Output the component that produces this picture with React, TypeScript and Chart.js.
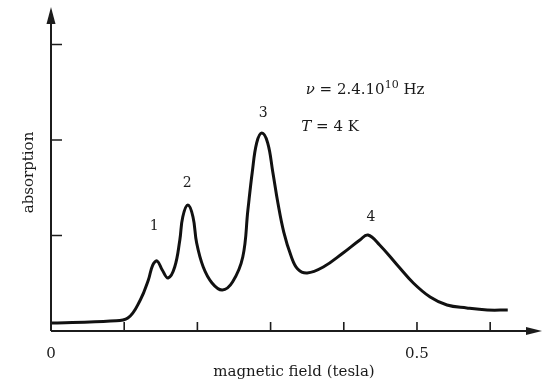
import React, { useEffect, useRef } from "react";
import { Chart, registerables } from "chart.js";

Chart.register(...registerables);

// magnetic field (tesla) and absorption (arb. units)
const fieldT = [
  0.0, 0.053, 0.081, 0.105, 0.122, 0.133, 0.139, 0.145, 0.152, 0.16, 0.169, 0.176, 0.18, 0.187,
  0.194, 0.199, 0.208, 0.22, 0.234, 0.248, 0.262, 0.269, 0.275, 0.281, 0.288, 0.296,
  0.303, 0.31, 0.318, 0.328, 0.337, 0.35, 0.372, 0.399, 0.422, 0.433, 0.449, 0.473, 0.495,
  0.518, 0.541, 0.568, 0.596, 0.624,
];
const absorption = [
  0.084, 0.094, 0.105, 0.136, 0.325, 0.534, 0.691, 0.733, 0.639, 0.555, 0.67, 0.953, 1.194, 1.319,
  1.194, 0.921, 0.67, 0.503, 0.429, 0.513, 0.775, 1.267, 1.665, 1.969, 2.073, 1.97,
  1.665, 1.34, 1.036, 0.785, 0.649, 0.607, 0.67, 0.817, 0.953, 1.005, 0.901, 0.691, 0.503,
  0.356, 0.272, 0.241, 0.22, 0.22,
];

const xTicks = [0.1, 0.2, 0.3, 0.4, 0.5, 0.6];
const xTickLabels = ["0", "0.5"];
const xTickLabelValues = [0, 0.5];
const yTicks = [1, 2, 3];

const peakLabels = ["1", "2", "3", "4"];
const peakLabelX = [0.141, 0.186, 0.29, 0.437];
const peakLabelY = [1.1, 1.55, 2.28, 1.19];

const xMax = 0.6708;
const yMax = 3.393;

const SERIF = "'DejaVu Serif', 'Liberation Serif', serif";

const axesPlugin = {
  id: "sketchAxes",
  afterDraw(chart: any) {
    const { ctx, chartArea } = chart;
    const xs = chart.scales.x;
    const ys = chart.scales.y;
    const x0 = xs.getPixelForValue(0);
    const y0 = ys.getPixelForValue(0);
    const xEnd = xs.getPixelForValue(xMax);
    const yEnd = ys.getPixelForValue(yMax);
    ctx.save();
    ctx.strokeStyle = "#1c1c1c";
    ctx.fillStyle = "#1c1c1c";
    ctx.lineWidth = 2;
    // axes
    ctx.beginPath();
    ctx.moveTo(x0, y0);
    ctx.lineTo(xEnd - 8, y0);
    ctx.moveTo(x0, y0);
    ctx.lineTo(x0, yEnd + 10);
    ctx.stroke();
    // arrowheads
    ctx.beginPath();
    ctx.moveTo(xEnd, y0);
    ctx.lineTo(xEnd - 16, y0 - 4);
    ctx.lineTo(xEnd - 16, y0 + 4);
    ctx.closePath();
    ctx.fill();
    ctx.beginPath();
    ctx.moveTo(x0, yEnd);
    ctx.lineTo(x0 - 4.5, yEnd + 17);
    ctx.lineTo(x0 + 4.5, yEnd + 17);
    ctx.closePath();
    ctx.fill();
    // ticks
    ctx.lineWidth = 1.6;
    ctx.beginPath();
    xTicks.forEach((t) => {
      const px = xs.getPixelForValue(t);
      ctx.moveTo(px, y0);
      ctx.lineTo(px, y0 - 9);
    });
    yTicks.forEach((t) => {
      const py = ys.getPixelForValue(t);
      ctx.moveTo(x0, py);
      ctx.lineTo(x0 + 11, py);
    });
    ctx.stroke();

    ctx.fillStyle = "#1a1a1a";
    ctx.textAlign = "center";
    ctx.textBaseline = "middle";
    ctx.font = `15px ${SERIF}`;
    xTickLabels.forEach((l, i) => {
      ctx.fillText(l, xs.getPixelForValue(xTickLabelValues[i]), chartArea.bottom + 23);
    });
    // axis titles
    ctx.font = `15px ${SERIF}`;
    ctx.fillText("magnetic field (tesla)", xs.getPixelForValue(0.332), chartArea.bottom + 41);
    ctx.save();
    ctx.translate(29, ys.getPixelForValue(1.66));
    ctx.rotate(-Math.PI / 2);
    ctx.font = `15px ${SERIF}`;
    ctx.fillText("absorption", 0, 0);
    ctx.restore();

    // peak labels
    ctx.font = `14px ${SERIF}`;
    peakLabels.forEach((l, i) => {
      ctx.fillText(l, xs.getPixelForValue(peakLabelX[i]), ys.getPixelForValue(peakLabelY[i]));
    });

    // info text
    ctx.textAlign = "left";
    let px = xs.getPixelForValue(0.348);
    let py = ys.getPixelForValue(2.52);
    const seg = (text: string, font: string, dy = 0) => {
      ctx.font = font;
      ctx.fillText(text, px, py + dy);
      px += ctx.measureText(text).width;
    };
    seg("ν", `italic 15px ${SERIF}`);
    seg(" = 2.4.10", `15px ${SERIF}`);
    seg("10", `11px ${SERIF}`, -5);
    seg(" Hz", `15px ${SERIF}`);
    px = xs.getPixelForValue(0.342);
    py = ys.getPixelForValue(2.14);
    seg("T", `italic 15px ${SERIF}`);
    seg(" = 4 K", `15px ${SERIF}`);
    ctx.restore();
  },
};

export default function App() {
  const ref = useRef<HTMLCanvasElement>(null);
  useEffect(() => {
    if (!ref.current) return;
    const chart = new Chart(ref.current, {
      type: "line",
      data: {
        datasets: [
          {
            data: fieldT.map((x, i) => ({ x, y: absorption[i] })),
            borderColor: "#111",
            borderWidth: 3,
            pointRadius: 0,
            fill: false,
            tension: 0.4,
            borderJoinStyle: "round",
          },
        ],
      },
      options: {
        animation: false,
        responsive: false,
        devicePixelRatio: 1,
        layout: { padding: { left: 51, right: 6, top: 7, bottom: 59 } },
        plugins: { legend: { display: false }, tooltip: { enabled: false } },
        scales: {
          x: { type: "linear", min: 0, max: xMax, display: false },
          y: { type: "linear", min: 0, max: yMax, display: false },
        },
      },
      plugins: [axesPlugin],
    } as any);
    return () => chart.destroy();
  }, []);
  return (
    <div style={{ position: "absolute", left: 0, top: 0, width: 548, height: 390, background: "#fff" }}>
      <canvas ref={ref} width={548} height={390} />
    </div>
  );
}
